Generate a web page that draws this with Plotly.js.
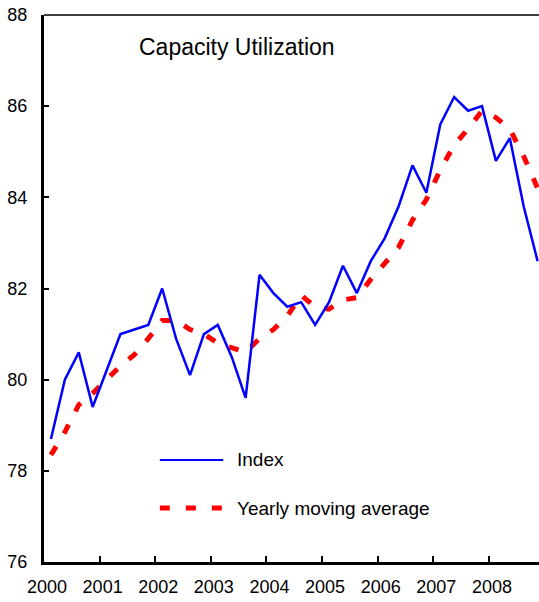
<!DOCTYPE html>
<html>
<head>
<meta charset="utf-8">
<script src="https://cdn.plot.ly/plotly-3.0.1.min.js"></script>
<style>
  html, body { margin: 0; padding: 0; background: #fff; }
  #chart { width: 539px; height: 602px; }
</style>
</head>
<body>
<div id="chart"></div>
<script>
// quarterly data, 2000 Q1 .. 2008 Q4
const years = [2000, 2001, 2002, 2003, 2004, 2005, 2006, 2007, 2008];
const yearLabels = years.map(y => String(y));
const quarters = [1, 2, 3, 4];

const indexValues = [
    78.7, 80.0, 80.6, 79.4,
    80.2, 81.0, 81.1, 81.2,
    82.0, 80.9, 80.1, 81.0,
    81.2, 80.5, 79.6, 82.3,
    81.9, 81.6, 81.7, 81.2,
    81.7, 82.5, 81.9, 82.6,
    83.1, 83.8, 84.7, 84.1,
    85.6, 86.2, 85.9, 86.0,
    84.8, 85.3, 83.8, 82.6
];

const movingAvg = [
    78.35, 78.85, 79.45, 79.7,
    80.0, 80.3, 80.55, 80.9,
    81.3, 81.3, 81.1, 81.0,
    80.8, 80.7, 80.6, 80.9,
    81.1, 81.4, 81.85, 81.6,
    81.55, 81.75, 81.8, 82.2,
    82.55, 82.9, 83.5, 83.95,
    84.6, 85.15, 85.5, 85.9,
    85.75, 85.5, 84.9, 84.2
];

// middle of each quarter on a decimal-year axis
let xq = [];
years.forEach(y => quarters.forEach(q => xq.push(y + (q - 0.5) / 4)));

const font = "Liberation Sans, Arial, sans-serif";

const indexTrace = {
    x: xq,
    y: indexValues,
    mode: 'lines',
    line: { color: '#0000ff', width: 2.5 },
    name: 'Index',
    hoverinfo: 'skip'
};

const avgTrace = {
    x: xq,
    y: movingAvg,
    mode: 'lines',
    line: { color: '#ff0000', width: 5, dash: '10px,15px' },
    name: 'Yearly moving average',
    hoverinfo: 'skip'
};

// legend drawn by hand so the sample lines are long like the original
const legX0 = 0.234, legX1 = 0.362, legText = 0.386;
const legY = [0.1865, 0.0987];

const layout = {
    width: 539,
    height: 602,
    margin: { l: 44, r: 0, t: 15, b: 40 },
    paper_bgcolor: '#fff',
    plot_bgcolor: '#fff',
    showlegend: false,
    font: { family: font, color: '#000' },
    title: {
        text: 'Capacity Utilization',
        font: { family: font, size: 23, color: '#000' },
        x: 139 / 539,
        xanchor: 'left',
        y: 1 - 47 / 602,
        yanchor: 'middle'
    },
    xaxis: {
        range: [2000, 2008.9],
        tickvals: years,
        ticktext: yearLabels,
        ticks: 'inside',
        ticklen: 6,
        tickwidth: 2,
        tickcolor: '#000',
        showline: true,
        linewidth: 2.5,
        linecolor: '#000',
        showgrid: false,
        zeroline: false,
        ticklabelshift: 3,
        ticklabelstandoff: 7,
        tickfont: { family: font, size: 18, color: '#000' }
    },
    yaxis: {
        range: [76, 88],
        tick0: 76,
        dtick: 2,
        ticks: 'inside',
        ticklen: 5,
        tickwidth: 2,
        tickcolor: '#000',
        showline: true,
        linewidth: 3,
        linecolor: '#000',
        showgrid: false,
        zeroline: false,
        ticklabelstandoff: 10,
        tickfont: { family: font, size: 18, color: '#000' }
    },
    shapes: [
        { type: 'line', xref: 'paper', yref: 'paper', x0: 0, x1: 1, y0: 1, y1: 1,
          line: { color: '#000', width: 1.5 } },
        { type: 'line', xref: 'paper', yref: 'paper', x0: legX0, x1: legX1, y0: legY[0], y1: legY[0],
          line: { color: '#0000ff', width: 2 } },
        { type: 'line', xref: 'paper', yref: 'paper', x0: legX0, x1: legX1, y0: legY[1], y1: legY[1],
          line: { color: '#ff0000', width: 5, dash: '10px,16px' } }
    ],
    annotations: [
        { xref: 'paper', yref: 'paper', x: legText, y: legY[0], text: 'Index',
          showarrow: false, xanchor: 'left', yanchor: 'middle',
          font: { family: font, size: 19, color: '#000' } },
        { xref: 'paper', yref: 'paper', x: legText, y: legY[1], text: 'Yearly moving average',
          showarrow: false, xanchor: 'left', yanchor: 'middle',
          font: { family: font, size: 19, color: '#000' } }
    ]
};

Plotly.newPlot('chart', [avgTrace, indexTrace], layout, { displayModeBar: false, staticPlot: true });
</script>
</body>
</html>
